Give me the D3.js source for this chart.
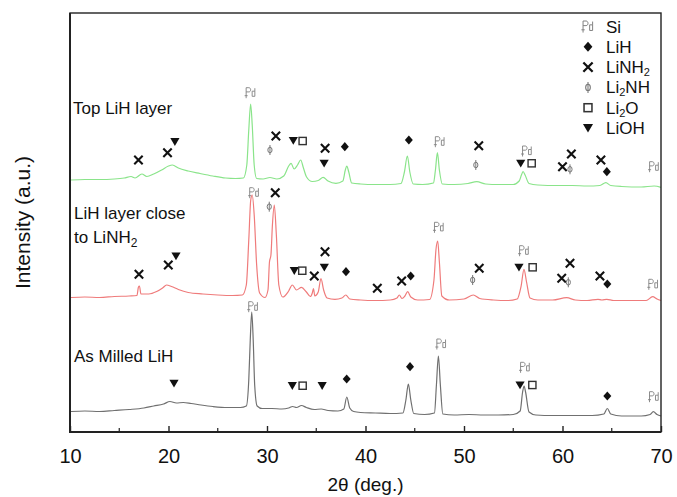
<!DOCTYPE html>
<html>
<head>
<meta charset="utf-8">
<script src="https://cdn.jsdelivr.net/npm/d3@7/dist/d3.min.js"></script>
<style>
  body { margin: 0; background: #fff; }
  text { font-family: "Liberation Sans", Arial, sans-serif; }
</style>
</head>
<body>
<div id="chart"></div>
<script>
// x axis
const xDomain = [10, 70];
const xMajor = [10, 20, 30, 40, 50, 60, 70];
const xMinor = [15, 25, 35, 45, 55, 65];

// traces: [2theta, intensity (a.u., stacked as plotted)]
const topLayer = [
  [10.1, 252], [11.5, 252.5], [13, 252.5], [14.5, 253], [15.5, 254], [16.2, 255.5], [16.6, 254],
  [17.3, 258], [17.8, 255.5], [18.5, 258], [19.3, 262], [20.0, 266], [20.4, 267], [21, 264],
  [22, 261], [23.2, 258.5], [24.5, 256], [25.8, 254], [26.8, 253.5], [27.6, 254], [27.95, 267],
  [28.15, 302], [28.34, 328], [28.5, 307], [28.7, 267], [28.95, 253.5], [29.6, 253], [30.3, 254.5],
  [31.0, 253], [31.7, 256], [32.2, 266], [32.44, 268.7], [32.75, 263], [33.1, 267], [33.42, 272],
  [33.7, 264], [34.0, 255.3], [34.6, 250.5], [35.2, 251.5], [35.7, 254.7], [36.2, 251], [37.0, 248.7],
  [37.7, 251], [37.95, 262], [38.1, 266], [38.3, 260], [38.6, 249], [39.5, 248], [41, 247.5],
  [42.5, 247.5], [43.6, 248.5], [43.95, 260], [44.25, 276], [44.5, 260], [44.85, 248], [45.8, 247.5],
  [46.9, 249], [47.1, 262], [47.3, 279.3], [47.5, 262], [47.8, 248], [49, 247.5], [50.4, 248.5],
  [51.3, 250.3], [52.2, 248], [53.5, 247.5], [55, 247.5], [55.6, 251], [55.85, 257.5], [56.0, 260.5],
  [56.2, 257], [56.6, 248.5], [57.5, 247], [59.5, 246.5], [61, 246.5], [62.5, 246], [63.8, 246.5],
  [64.4, 249.3], [64.9, 246.5], [66, 245.5], [68, 245], [69.3, 246], [70, 244.7]
];
const closeLayer = [
  [10.1, 134.5], [11.5, 135], [13, 134.5], [14.5, 135.5], [16, 136], [16.8, 136.5], [16.95, 145],
  [17.05, 146], [17.2, 138], [18, 138], [18.8, 140.5], [19.4, 144], [19.8, 147], [20.3, 145.5],
  [21, 142.5], [22, 139.5], [23.5, 138], [25, 137], [26.5, 136.5], [27.5, 137], [27.9, 147],
  [28.15, 192], [28.35, 232], [28.5, 237], [28.7, 217], [28.95, 167], [29.25, 139], [29.8, 134.5],
  [30.1, 142], [30.25, 170], [30.4, 177], [30.55, 207], [30.74, 227], [30.95, 197], [31.2, 147],
  [31.6, 135], [32.2, 141], [32.57, 147], [33.0, 142], [33.5, 144.7], [34.0, 140], [34.4, 135.5],
  [34.6, 139], [34.72, 143.5], [34.85, 136], [35.2, 140], [35.48, 153.5], [35.75, 142], [36.1, 134],
  [36.9, 132.7], [37.6, 134], [38.0, 137], [38.4, 133], [39.5, 132], [41, 131.5], [42.5, 132],
  [43.2, 134], [43.43, 137], [43.7, 133.5], [44.0, 136], [44.28, 140.3], [44.6, 135], [45.3, 132],
  [46.5, 132.5], [46.95, 152], [47.15, 182], [47.33, 191], [47.5, 170], [47.75, 136], [48.5, 132],
  [50, 133], [50.95, 137], [51.6, 133.5], [53, 132], [54.5, 131.5], [55.4, 133], [55.8, 146],
  [56.09, 162.7], [56.35, 150], [56.7, 134], [57.5, 132], [59, 132], [60.43, 134.3], [61.3, 132],
  [62.5, 131.5], [63.6, 132.7], [64.0, 132], [64.5, 132.7], [65.2, 131.5], [67, 131.5], [68.5, 131.5],
  [69.15, 135.3], [69.6, 133], [70, 131.5]
];
const milled = [
  [10.1, 20.5], [11.5, 21], [13, 20.5], [14.5, 21.5], [16, 22.5], [17.5, 24], [18.5, 26], [19.5, 28],
  [20.15, 30.5], [20.8, 29], [21.5, 29.5], [22.3, 28.5], [23.3, 27], [24.5, 25.5], [26, 24.5],
  [27.3, 24.5], [27.9, 26], [28.15, 52], [28.3, 92], [28.45, 120], [28.6, 92], [28.75, 47], [29.0, 26],
  [29.5, 23.5], [30.5, 23.5], [31.5, 23], [32.2, 24], [32.6, 25.5], [33.0, 24.5], [33.5, 26.5],
  [34.0, 24.5], [34.8, 22.5], [35.5, 23], [36.2, 21.5], [37.2, 21], [37.8, 23], [38.1, 35], [38.4, 24],
  [38.8, 20.5], [39.5, 19.5], [41, 19], [42.5, 18.5], [43.8, 19], [44.1, 32], [44.35, 48], [44.6, 32],
  [44.9, 18.5], [46, 17.5], [47.0, 19], [47.2, 47], [47.4, 76], [47.6, 47], [47.85, 18], [49, 17],
  [50.5, 17.5], [52, 17], [53.5, 17], [55.0, 17.5], [55.7, 21], [55.95, 40], [56.1, 46], [56.25, 40],
  [56.6, 20], [57.3, 17], [59, 16.5], [61, 16.5], [63, 16.5], [64.2, 18], [64.55, 23.5], [64.9, 18],
  [66, 16], [68, 16], [68.9, 17.5], [69.22, 20.3], [69.6, 17.5], [70, 16]
];

// phase markers: [phase, 2theta, intensity]
const topMarks = [
  ["LiNH2", 16.95, 272], ["LiNH2", 19.9, 279.3], ["LiOH", 20.65, 290.3], ["Si", 28.34, 339.3],
  ["Li2NH", 30.3, 282], ["LiNH2", 30.9, 296], ["LiOH", 32.67, 291.5], ["Li2O", 33.62, 291],
  ["LiNH2", 35.9, 283.7], ["LiOH", 35.8, 268.7], ["LiH", 37.9, 285.3], ["LiH", 44.4, 292],
  ["Si", 47.55, 290.3], ["LiNH2", 51.5, 286.3], ["Li2NH", 51.2, 267], ["LiOH", 55.76, 268.7],
  ["Li2O", 56.87, 268.7], ["Si", 56.4, 281], ["LiNH2", 60.0, 265.3], ["Li2NH", 60.76, 262.7],
  ["LiNH2", 60.9, 278], ["LiNH2", 63.9, 272], ["LiH", 64.5, 260.3], ["Si", 69.3, 265.3]
];
const closeMarks = [
  ["LiNH2", 17.0, 157.7], ["LiNH2", 19.98, 167], ["LiOH", 20.76, 176], ["Si", 28.7, 239.3],
  ["LiNH2", 30.84, 239.3], ["Li2NH", 30.23, 225.3], ["LiOH", 32.77, 161.3], ["Li2O", 33.58, 161.3],
  ["LiNH2", 34.8, 156], ["LiNH2", 35.89, 180.3], ["LiOH", 35.82, 164.7], ["LiH", 38.02, 160.3],
  ["LiNH2", 41.2, 143.7], ["LiNH2", 43.67, 151], ["LiH", 44.59, 156], ["Si", 47.46, 204.7],
  ["LiNH2", 51.55, 163.7], ["Li2NH", 50.88, 152], ["LiOH", 55.58, 164.7], ["Li2O", 56.97, 164.7],
  ["Si", 56.1, 181.3], ["LiNH2", 60.76, 168.7], ["LiNH2", 59.92, 153.7], ["Li2NH", 60.59, 149.7],
  ["LiNH2", 63.8, 156], ["LiH", 64.55, 148], ["Si", 69.22, 147.7]
];
const milledMarks = [
  ["LiOH", 20.56, 48.7], ["Si", 28.6, 125.3], ["LiOH", 32.57, 46.3], ["Li2O", 33.62, 46.3],
  ["LiOH", 35.6, 46.3], ["LiH", 38.09, 53], ["LiH", 44.52, 65.3], ["Si", 47.7, 88],
  ["Si", 56.2, 64.7], ["LiOH", 55.69, 47], ["Li2O", 56.94, 47], ["LiH", 64.55, 36], ["Si", 69.29, 35.3]
];

const legendPhases = ["Si", "LiH", "LiNH2", "Li2NH", "Li2O", "LiOH"];
// label segments: [text, subscript?]
const legendLabels = [
  [["Si", false]],
  [["LiH", false]],
  [["LiNH", false], ["2", true]],
  [["Li", false], ["2", true], ["NH", false]],
  [["Li", false], ["2", true], ["O", false]],
  [["LiOH", false]]
];

const width = 677, height = 497;
const margin = { top: 13, right: 16, bottom: 65, left: 70 };

const svg = d3.select("#chart").append("svg")
  .attr("width", width)
  .attr("height", height);

const x = d3.scaleLinear().domain(xDomain).range([margin.left, width - margin.right]);
const y = d3.scaleLinear().domain([0, height - margin.top - margin.bottom])
  .range([height - margin.bottom, margin.top]);

// draws one phase symbol centred at (cx, cy)
function symbol(g, phase, cx, cy, k) {
  k = k || 1;
  const s = g.append("g").attr("transform", `translate(${cx},${cy}) scale(${k})`);
  if (phase === "Si") {
    s.append("path")
      .attr("d", "M-4.5,5.5 V-5 H-1.8 C0.6,-5 0.6,-0.8 -1.8,-0.8 H-4.5 M-6,3 H-3 M1.5,-1.5 H4.2 V3.6 H1.5 Z M4.2,-4.5 V-1.5")
      .attr("fill", "none").attr("stroke", "#808080").attr("stroke-width", 0.9);
  } else if (phase === "LiH") {
    s.append("path").attr("d", "M0,-4.6 L4,0 L0,4.6 L-4,0 Z").attr("fill", "#111");
  } else if (phase === "LiNH2") {
    s.append("path").attr("d", "M-4.2,-4.2 L4.2,4.2 M4.2,-4.2 L-4.2,4.2")
      .attr("stroke", "#111").attr("stroke-width", 2.1).attr("fill", "none");
  } else if (phase === "Li2NH") {
    s.append("ellipse").attr("rx", 2.1).attr("ry", 2.8)
      .attr("fill", "none").attr("stroke", "#777").attr("stroke-width", 1);
    s.append("path").attr("d", "M0,-5 V5").attr("stroke", "#777").attr("stroke-width", 1);
  } else if (phase === "Li2O") {
    s.append("rect").attr("x", -3.6).attr("y", -3.6).attr("width", 7.2).attr("height", 7.2)
      .attr("fill", "#fff").attr("stroke", "#333").attr("stroke-width", 1.4);
  } else if (phase === "LiOH") {
    s.append("path").attr("d", "M-4.6,-3.6 L4.6,-3.6 L0,4.2 Z").attr("fill", "#111");
  }
}

// traces
const line = d3.line().x(d => x(d[0])).y(d => y(d[1])).curve(d3.curveMonotoneX);
const traces = [
  { data: topLayer, color: "#8ae48a" },
  { data: closeLayer, color: "#ef7b7b" },
  { data: milled, color: "#707070" }
];
svg.append("g").selectAll("path")
  .data(traces)
  .join("path")
  .attr("d", d => line(d.data))
  .attr("fill", "none")
  .attr("stroke", d => d.color)
  .attr("stroke-width", 1.2);

// markers
const markG = svg.append("g");
[topMarks, closeMarks, milledMarks].forEach(marks => {
  marks.forEach(m => symbol(markG, m[0], x(m[1]), y(m[2])));
});

// frame
svg.append("rect")
  .attr("x", margin.left).attr("y", margin.top)
  .attr("width", width - margin.left - margin.right)
  .attr("height", height - margin.top - margin.bottom)
  .attr("fill", "none").attr("stroke", "#222").attr("stroke-width", 1.4);
svg.append("path")
  .attr("d", `M${margin.left},${margin.top} V${height - margin.bottom} H${width - margin.right}`)
  .attr("fill", "none").attr("stroke", "#222").attr("stroke-width", 2);

// x axis, ticks pointing inward
const xAxis = svg.append("g")
  .attr("transform", `translate(0,${height - margin.bottom})`)
  .call(d3.axisBottom(x).tickValues(xMajor).tickSize(-6).tickPadding(17).tickFormat(d3.format("d")));
xAxis.select(".domain").remove();
xAxis.selectAll(".tick line").attr("stroke", "#222").attr("stroke-width", 1.4);
xAxis.selectAll("text")
  .attr("font-family", "'Liberation Sans', Arial, sans-serif")
  .attr("font-size", 20).attr("fill", "#111");
svg.append("g").selectAll("line")
  .data(xMinor)
  .join("line")
  .attr("x1", d => x(d)).attr("x2", d => x(d))
  .attr("y1", height - margin.bottom).attr("y2", height - margin.bottom - 4)
  .attr("stroke", "#222").attr("stroke-width", 1.2);

// axis titles
svg.append("text")
  .attr("x", (margin.left + width - margin.right) / 2)
  .attr("y", 491)
  .attr("text-anchor", "middle")
  .attr("font-size", 19).attr("fill", "#111")
  .text("2θ (deg.)");
svg.append("text")
  .attr("transform", `translate(30,${(margin.top + height - margin.bottom) / 2}) rotate(-90)`)
  .attr("text-anchor", "middle")
  .attr("font-size", 21).attr("fill", "#111")
  .text("Intensity (a.u.)");

// sample labels
const lab = svg.append("g").attr("font-size", 17).attr("fill", "#111");
lab.append("text").attr("x", 73).attr("y", 114).text("Top LiH layer");
lab.append("text").attr("x", 74).attr("y", 219).text("LiH layer close");
const t2 = lab.append("text").attr("x", 74).attr("y", 243);
t2.append("tspan").text("to LiNH");
t2.append("tspan").attr("font-size", 12).attr("dy", 4).text("2");
lab.append("text").attr("x", 74).attr("y", 362).text("As Milled LiH");

// legend
const leg = svg.append("g");
legendPhases.forEach((p, i) => {
  const cy = 26.5 + i * 20.3;
  symbol(leg, p, 588, cy, 1.1);
  const t = leg.append("text")
    .attr("x", 606).attr("y", cy + 6)
    .attr("font-size", 17).attr("fill", "#111");
  legendLabels[i].forEach(seg => {
    if (seg[1]) {
      t.append("tspan").attr("font-size", 11).attr("dy", 3).text(seg[0]);
    } else {
      const ts = t.append("tspan").text(seg[0]);
      if (t.selectAll("tspan").size() > 1) ts.attr("dy", -3);
    }
  });
});
</script>
</body>
</html>
